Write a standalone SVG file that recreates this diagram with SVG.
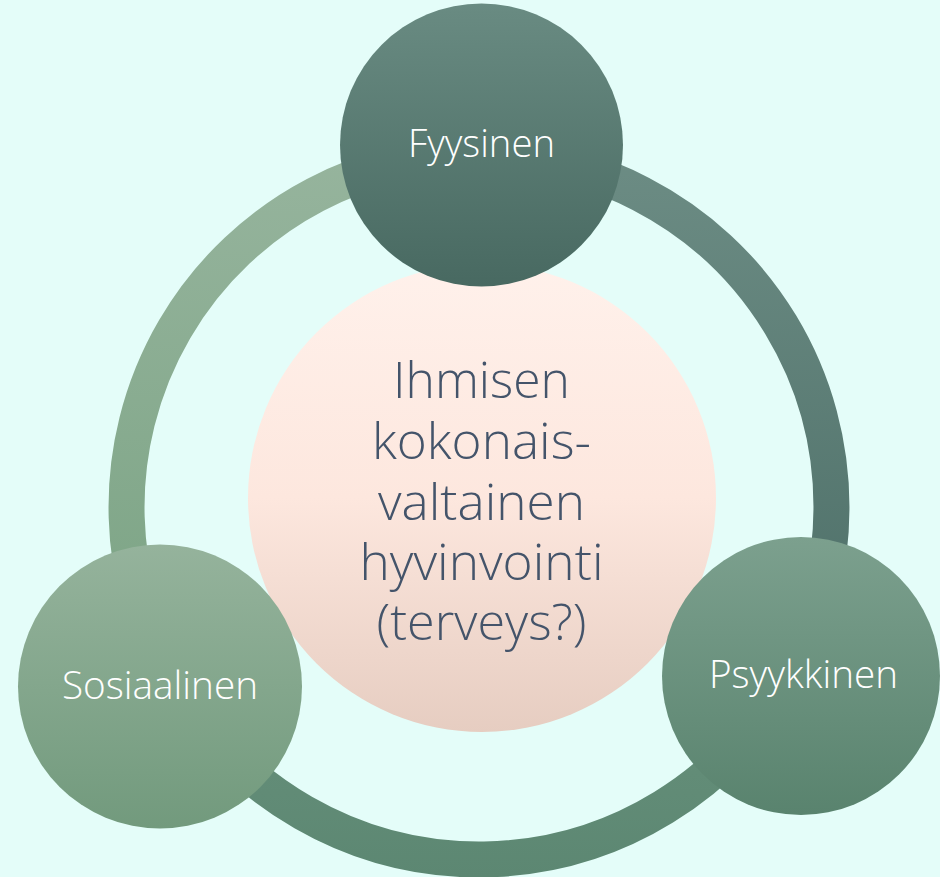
<svg xmlns="http://www.w3.org/2000/svg" width="940" height="877" viewBox="0 0 940 877">
<defs>
<linearGradient id="gFy" x1="0" y1="0" x2="0" y2="1"><stop offset="0" stop-color="#698b82"/><stop offset="1" stop-color="#486961"/></linearGradient>
<linearGradient id="gSo" x1="0" y1="0" x2="0" y2="1"><stop offset="0" stop-color="#95b39c"/><stop offset="1" stop-color="#729a7d"/></linearGradient>
<linearGradient id="gPs" x1="0" y1="0" x2="0" y2="1"><stop offset="0" stop-color="#7ca08e"/><stop offset="1" stop-color="#59836e"/></linearGradient>
<linearGradient id="gCe" x1="0" y1="0" x2="0" y2="1"><stop offset="0" stop-color="#fff1eb"/><stop offset="0.5" stop-color="#fde7de"/><stop offset="1" stop-color="#e6cdc1"/></linearGradient>
<linearGradient id="rL" gradientUnits="userSpaceOnUse" x1="0" y1="155" x2="0" y2="680"><stop offset="0" stop-color="#96b49d"/><stop offset="1" stop-color="#7aa383"/></linearGradient>
<linearGradient id="rR" gradientUnits="userSpaceOnUse" x1="0" y1="155" x2="0" y2="680"><stop offset="0" stop-color="#6c8c84"/><stop offset="1" stop-color="#4c6e67"/></linearGradient>
<linearGradient id="rB" gradientUnits="userSpaceOnUse" x1="0" y1="670" x2="0" y2="877"><stop offset="0" stop-color="#68917c"/><stop offset="1" stop-color="#5c8772"/></linearGradient>
</defs>
<style>
.ring{fill:none;stroke-width:36}
.lbl{font-family:"Open Sans","Noto Sans",sans-serif;font-weight:300;fill:#ffffff;text-anchor:middle;font-size:39px}
.ctr{font-family:"Open Sans","Noto Sans",sans-serif;font-weight:300;fill:#44546a;text-anchor:middle;font-size:50px}
</style>
<rect width="940" height="877" fill="#e4fdf9"/>
<g id="connectors">
<path class="ring" stroke="url(#rL)" d="M 479 154.5 A 352.5 352.5 0 0 0 171.9 680"/>
<path class="ring" stroke="url(#rR)" d="M 479 154.5 A 352.5 352.5 0 0 1 791.1 670.8"/>
<path class="ring" stroke="url(#rB)" d="M 791.1 670.8 A 352.5 352.5 0 0 1 171.9 680"/>
</g>
<g id="center">
<circle cx="482" cy="498" r="234" fill="url(#gCe)"/>
<text class="ctr"><tspan x="481.5" y="398" textLength="177" lengthAdjust="spacingAndGlyphs">Ihmisen</tspan><tspan x="481.5" y="459" textLength="219" lengthAdjust="spacingAndGlyphs">kokonais-</tspan><tspan x="481.5" y="520" textLength="207" lengthAdjust="spacingAndGlyphs">valtainen</tspan><tspan x="481.5" y="580" textLength="244" lengthAdjust="spacingAndGlyphs">hyvinvointi</tspan><tspan x="481.5" y="640" textLength="210" lengthAdjust="spacingAndGlyphs">(terveys?)</tspan></text>
</g>
<g id="fyysinen">
<circle cx="481.5" cy="145" r="141.5" fill="url(#gFy)"/>
<text class="lbl" x="481.5" y="157" textLength="147" lengthAdjust="spacingAndGlyphs">Fyysinen</text>
</g>
<g id="sosiaalinen">
<circle cx="160" cy="686.5" r="142" fill="url(#gSo)"/>
<text class="lbl" x="160" y="699" textLength="196" lengthAdjust="spacingAndGlyphs">Sosiaalinen</text>
</g>
<g id="psyykkinen">
<circle cx="801" cy="676" r="139" fill="url(#gPs)"/>
<text class="lbl" x="803.5" y="688" textLength="189" lengthAdjust="spacingAndGlyphs">Psyykkinen</text>
</g>
</svg>
